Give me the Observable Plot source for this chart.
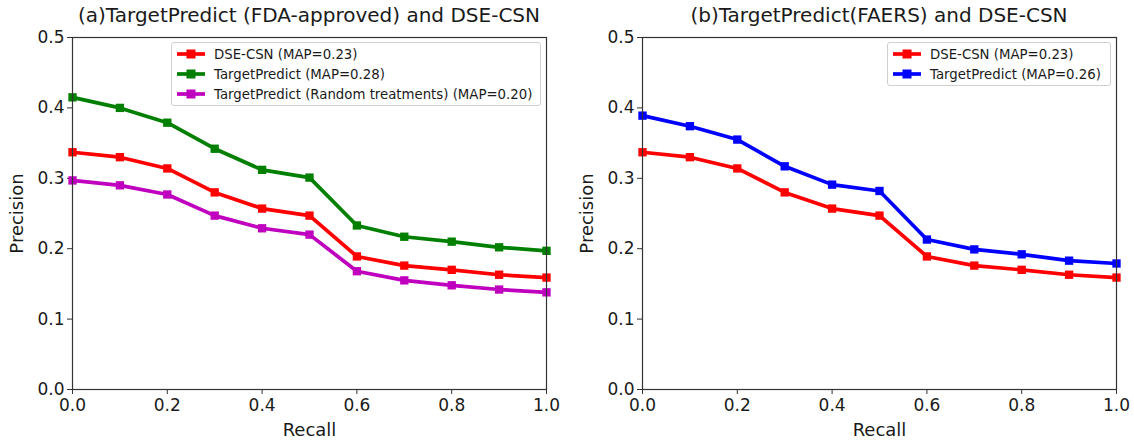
<!DOCTYPE html>
<html>
<head>
<meta charset="utf-8">
<script src="https://cdn.jsdelivr.net/npm/d3@7"></script>
<script src="https://cdn.jsdelivr.net/npm/@observablehq/plot@0.6"></script>
<style>
  html, body { margin: 0; padding: 0; background: #fff; }
  body { width: 1134px; height: 440px; overflow: hidden; font-family: "DejaVu Sans", sans-serif; }
  #wrap { display: flex; }
  .panel { position: relative; width: 567px; }
  .title { height: 28px; line-height: 30px; font-size: 20px; color: #1a1a1a; text-align: center; white-space: nowrap; }
  .legend { position: absolute; background: rgba(255,255,255,0.9); border: 1px solid #d0d0d0; border-radius: 3px; font-size: 13.3px; color: #1a1a1a; padding: 1px 4px 1px 4px; box-sizing: border-box; }
  .legend .row { display: flex; align-items: center; height: 20px; white-space: nowrap; }
  .legend svg { margin-right: 8px; }
</style>
</head>
<body>
<div id="wrap"></div>
<script>
const recall = [0.0, 0.1, 0.2, 0.3, 0.4, 0.5, 0.6, 0.7, 0.8, 0.9, 1.0];
const dseCsn = [0.337, 0.330, 0.314, 0.280, 0.257, 0.247, 0.189, 0.176, 0.170, 0.163, 0.159];
const tpFda = [0.415, 0.400, 0.379, 0.342, 0.312, 0.301, 0.233, 0.217, 0.210, 0.202, 0.197];
const tpRandom = [0.297, 0.290, 0.277, 0.247, 0.229, 0.220, 0.168, 0.155, 0.148, 0.142, 0.138];
const tpFaers = [0.389, 0.374, 0.355, 0.317, 0.291, 0.282, 0.213, 0.199, 0.192, 0.183, 0.179];

const xTicks = [0.0, 0.2, 0.4, 0.6, 0.8, 1.0];
const yTicks = [0.0, 0.1, 0.2, 0.3, 0.4, 0.5];

const panels = [
  {
    title: "(a)TargetPredict (FDA-approved) and DSE-CSN",
    series: [
      {name: "DSE-CSN (MAP=0.23)", values: dseCsn, color: "#ff0000"},
      {name: "TargetPredict (MAP=0.28)", values: tpFda, color: "#007f00"},
      {name: "TargetPredict (Random treatments) (MAP=0.20)", values: tpRandom, color: "#bf00bf"}
    ],
    drawOrder: [1, 0, 2],
    legend: {left: 171, top: 42, width: 370}
  },
  {
    title: "(b)TargetPredict(FAERS) and DSE-CSN",
    series: [
      {name: "DSE-CSN (MAP=0.23)", values: dseCsn, color: "#ff0000"},
      {name: "TargetPredict (MAP=0.26)", values: tpFaers, color: "#0000ff"}
    ],
    drawOrder: [1, 0],
    legend: {left: 320, top: 42, width: 224}
  }
];

const wrap = document.getElementById("wrap");
const mLeft = [72, 75], mRight = [21, 18];

panels.forEach((p, i) => {
  const panel = document.createElement("div");
  panel.className = "panel";
  const title = document.createElement("div");
  title.className = "title";
  title.style.paddingLeft = mLeft[i] + "px";
  title.style.paddingRight = mRight[i] + "px";
  title.textContent = p.title;
  panel.appendChild(title);

  const marks = [];
  for (const k of p.drawOrder) {
    const s = p.series[k];
    const data = recall.map((r, j) => ({x: r, y: s.values[j]}));
    marks.push(Plot.line(data, {x: "x", y: "y", stroke: s.color, strokeWidth: 3.7}));
    marks.push(Plot.dot(data, {x: "x", y: "y", symbol: "square", r: 4.7, fill: s.color, stroke: "none"}));
  }

  const chart = Plot.plot({
    width: 567,
    height: 412,
    marginLeft: mLeft[i],
    marginRight: mRight[i],
    marginTop: 9,
    marginBottom: 51,
    style: {fontFamily: "DejaVu Sans, sans-serif", fontSize: "17px", color: "#1a1a1a", background: "#fff", overflow: "visible"},
    x: {domain: [0, 1]},
    y: {domain: [0, 0.5]},
    marks: [
      Plot.axisX({ticks: xTicks, tickFormat: d3.format(".1f"), tickSize: 5, tickPadding: 4, fontSize: 17, label: null, stroke: "#333"}),
      Plot.axisY({ticks: yTicks, tickFormat: d3.format(".1f"), tickSize: 5, tickPadding: 3, fontSize: 17, label: null, stroke: "#333"}),
      Plot.axisX({ticks: [], label: "Recall", labelAnchor: "center", labelOffset: 46, labelArrow: false, fontSize: 18}),
      Plot.axisY({ticks: [], label: "Precision", labelAnchor: "center", labelOffset: 62, labelArrow: false, fontSize: 18}),
      ...marks,
      Plot.frame({stroke: "#333", strokeWidth: 1.2})
    ]
  });
  panel.appendChild(chart);

  const lg = document.createElement("div");
  lg.className = "legend";
  lg.style.left = p.legend.left + "px";
  lg.style.top = p.legend.top + "px";
  lg.style.width = p.legend.width + "px";
  for (const s of p.series) {
    const row = document.createElement("div");
    row.className = "row";
    row.innerHTML = `<svg width="30" height="12"><line x1="1" y1="6" x2="29" y2="6" stroke="${s.color}" stroke-width="3.7"/><rect x="10.5" y="1.5" width="9" height="9" fill="${s.color}"/></svg><span>${s.name}</span>`;
    lg.appendChild(row);
  }
  panel.appendChild(lg);

  wrap.appendChild(panel);
});
</script>
</body>
</html>
